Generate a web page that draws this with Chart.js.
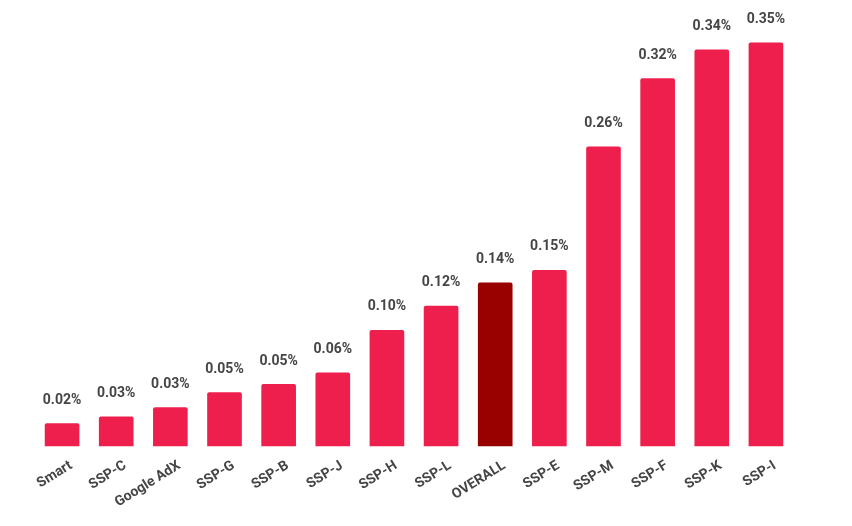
<!DOCTYPE html>
<html>
<head>
<meta charset="utf-8">
<script src="https://cdn.jsdelivr.net/npm/chart.js@4"></script>
<style>
  html, body { margin: 0; padding: 0; background: #fff; }
</style>
</head>
<body>
<canvas id="barChart" width="852" height="526"></canvas>
<script>
const categories = ['Smart', 'SSP-C', 'Google AdX', 'SSP-G', 'SSP-B', 'SSP-J', 'SSP-H', 'SSP-L', 'OVERALL', 'SSP-E', 'SSP-M', 'SSP-F', 'SSP-K', 'SSP-I']
const rates = [0.020, 0.026, 0.034, 0.047, 0.054, 0.064, 0.101, 0.122, 0.142, 0.153, 0.260, 0.319, 0.344, 0.350]
const highlight = 'OVERALL'

const ctx = document.getElementById('barChart').getContext('2d')

// ------- étiquettes au-dessus des barres -------
const valueLabels = {
  id: 'valueLabels',
  afterDatasetsDraw(chart) {
    const c = chart.ctx
    const meta = chart.getDatasetMeta(0)
    c.save()
    c.font = 'bold 14px Roboto'
    c.fillStyle = '#454545'
    c.textAlign = 'center'
    c.textBaseline = 'middle'
    meta.data.forEach((bar, i) => {
      c.fillText(rates[i].toFixed(2) + '%', bar.x, bar.y - 23)
    })
    c.restore()
  }
}

new Chart(ctx, {
  type: 'bar',
  data: {
    labels: categories,
    datasets: [{
      data: rates,
      backgroundColor: categories.map(c => c == highlight ? '#990000' : '#EE1F4D'),
      borderRadius: 2,
      borderSkipped: 'bottom',
      barPercentage: 0.64,
      categoryPercentage: 1
    }]
  },
  options: {
    responsive: false,
    animation: false,
    devicePixelRatio: 1,
    layout: { padding: { left: 35, right: 59, top: 8, bottom: 12 } },
    plugins: { legend: { display: false }, tooltip: { enabled: false } },
    scales: {
      x: {
        grid: { display: false },
        border: { display: false },
        ticks: {
          autoSkip: false,
          minRotation: 32,
          maxRotation: 32,
          labelOffset: 9,
          color: '#454545',
          font: { family: 'Roboto', weight: 'bold', size: 14 },
          padding: 3
        }
      },
      y: {
        display: false,
        min: 0,
        max: 0.38
      }
    }
  },
  plugins: [valueLabels]
})
</script>
</body>
</html>
